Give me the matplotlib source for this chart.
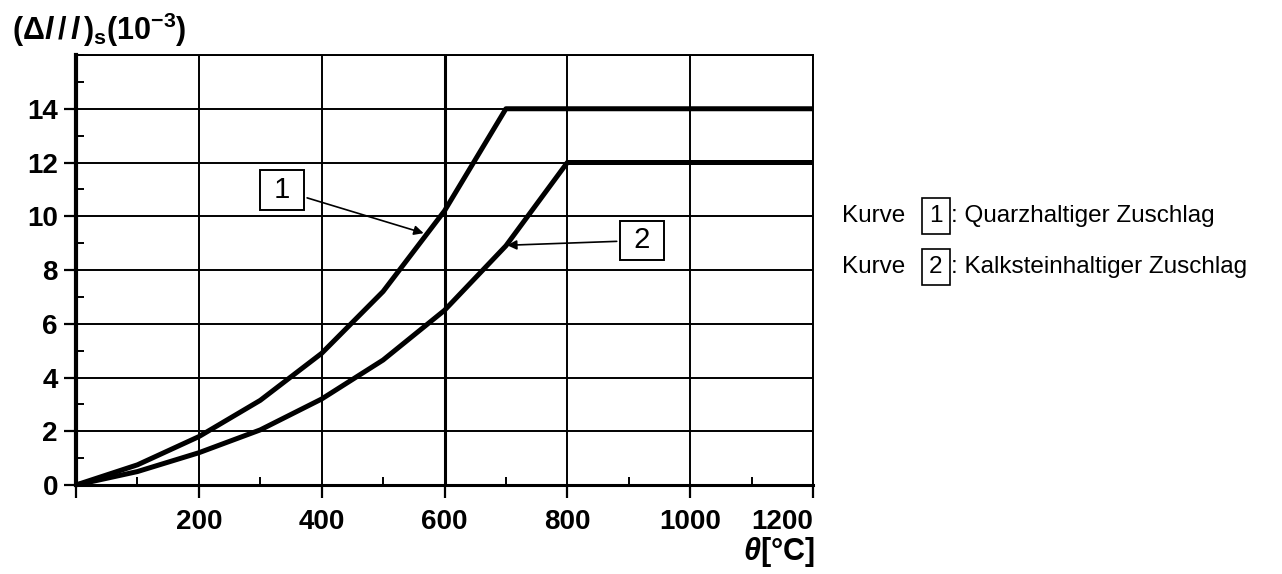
import numpy as np
import matplotlib
matplotlib.use("Agg")
import matplotlib.pyplot as plt
from matplotlib.ticker import MultipleLocator

plt.rcParams['font.family'] = ['Liberation Sans', 'DejaVu Sans']
plt.rcParams['mathtext.fontset'] = 'custom'
plt.rcParams['mathtext.rm'] = 'Liberation Sans:bold'
plt.rcParams['mathtext.bf'] = 'Liberation Sans:bold'
plt.rcParams['mathtext.it'] = 'Liberation Sans:italic:bold'

# data (temperature in degC, strain in 10^-3)
temp_1 = [0, 100, 200, 300, 400, 500, 600, 700, 1200]
strain_1 = [0.0, 0.75, 1.8, 3.15, 4.9, 7.2, 10.2, 14.0, 14.0]
temp_2 = [0, 100, 200, 300, 400, 500, 600, 700, 800, 1200]
strain_2 = [0.0, 0.5, 1.2, 2.05, 3.2, 4.65, 6.5, 8.9, 12.0, 12.0]
x_ticks = [0, 200, 400, 600, 800, 1000, 1200]
x_ticklabels = ['', '200', '400', '600', '800', '1000', '1200']
y_ticks = [0, 2, 4, 6, 8, 10, 12, 14]
legend_rows = [('1', ': Quarzhaltiger Zuschlag'), ('2', ': Kalksteinhaltiger Zuschlag')]

W, H = 1282, 574
fig = plt.figure(figsize=(W / 100, H / 100), dpi=100)
ax = fig.add_axes([76 / W, 1 - 485 / H, (813 - 76) / W, (485 - 55) / H])
ax.set_xlim(0, 1200)
ax.set_ylim(0, 16)

# grid
for x in x_ticks[1:]:
    ax.axvline(x, color='black', lw=2.2 if x == 600 else 1.4, zorder=1)
for y in y_ticks[1:] + [16]:
    ax.axhline(y, color='black', lw=1.4, zorder=1)

ax.plot(temp_1, strain_1, color='black', lw=3.6, solid_capstyle='butt', zorder=3)
ax.plot(temp_2, strain_2, color='black', lw=3.6, solid_capstyle='butt', zorder=3)

for s in ['top', 'right']:
    ax.spines[s].set_linewidth(1.4)
ax.spines['left'].set_linewidth(3)
ax.spines['bottom'].set_linewidth(2.2)

ax.set_xticks(x_ticks)
ax.set_xticklabels(x_ticklabels)
ax.set_yticks(y_ticks)
ax.xaxis.set_minor_locator(MultipleLocator(100))
ax.yaxis.set_minor_locator(MultipleLocator(1))
ax.tick_params(which='major', direction='out', length=9, width=1.6, labelsize=20, pad=4)
ax.tick_params(axis='x', which='major', pad=8)
ax.tick_params(which='minor', direction='in', length=6, width=1.4)
for lab in ax.get_xticklabels() + ax.get_yticklabels():
    lab.set_fontweight('bold')
ax.get_xticklabels()[-1].set_horizontalalignment('right')

# curve labels with arrows
box = dict(boxstyle='square,pad=0.2', fc='white', ec='black', lw=1.4)
ax.annotate(' 1 ', xy=(566, 9.37), xytext=(335, 10.97), fontsize=21, ha='center', va='center',
            bbox=box, arrowprops=dict(arrowstyle='-|>', color='black', lw=1.2,
                                      mutation_scale=14, shrinkB=0))
ax.annotate(' 2 ', xy=(702, 8.92), xytext=(922, 9.1), fontsize=21, ha='center', va='center',
            bbox=box, arrowprops=dict(arrowstyle='-|>', color='black', lw=1.2,
                                      mutation_scale=14, shrinkB=0))

# axis titles
fig.text(12 / W, 1 - 30 / H, r'$(\Delta \mathit{l}\,/\,\mathit{l}\,)_{\mathrm{s}}(10^{-3})$',
         fontsize=22, va='center', ha='left')
fig.text(815 / W, 1 - 552 / H, r'$\mathit{\theta}$[°C]', fontsize=22, fontweight='bold',
         ha='right', va='center')

# legend text on the right
for i, (num, desc) in enumerate(legend_rows):
    yc = 1 - (216 + 51 * i) / H
    fig.text(842 / W, yc, 'Kurve', fontsize=17.5, va='center', ha='left')
    fig.text(936 / W, yc, num, fontsize=17.5, va='center', ha='center',
             bbox=dict(boxstyle='square,pad=0.3', fc='white', ec='black', lw=1.2))
    fig.text(951 / W, yc, desc, fontsize=17.5, va='center', ha='left')

fig.savefig('out.png', dpi=100)
